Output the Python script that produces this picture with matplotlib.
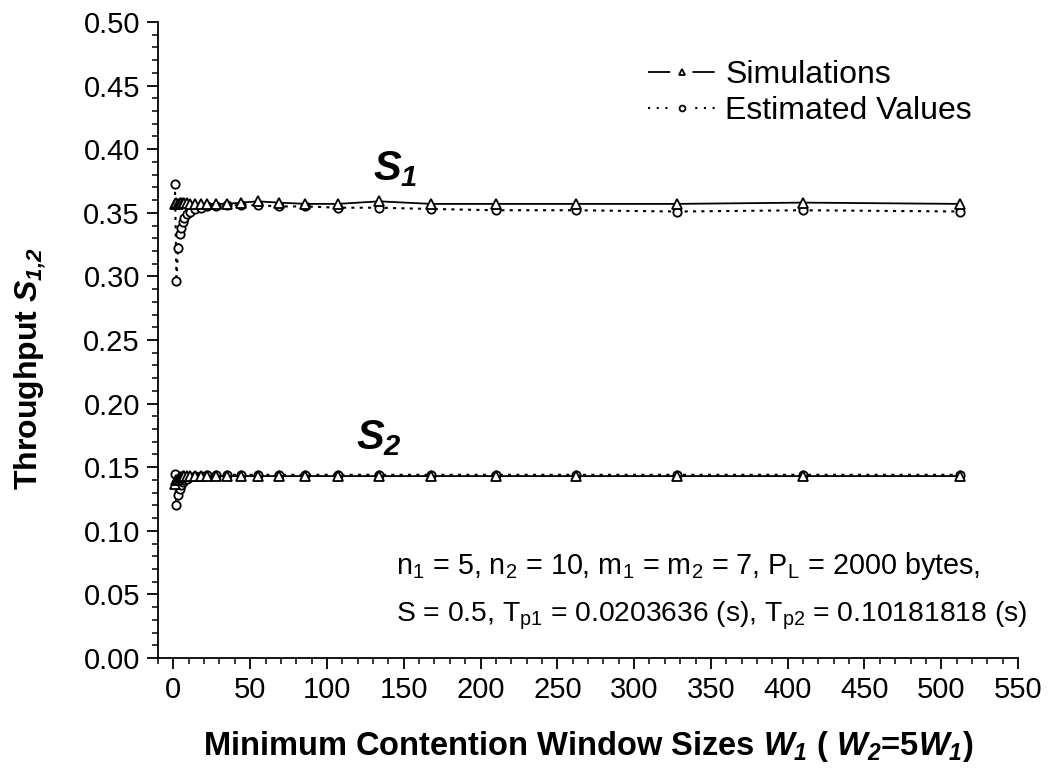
import matplotlib
matplotlib.use("Agg")
import matplotlib.pyplot as plt
from matplotlib.ticker import MultipleLocator, FormatStrFormatter
from matplotlib.lines import Line2D

plt.rcParams["font.family"] = ["Liberation Sans", "DejaVu Sans"]
plt.rcParams["mathtext.fontset"] = "custom"
plt.rcParams["mathtext.rm"] = "Liberation Sans"
plt.rcParams["mathtext.it"] = "Liberation Sans:italic:bold"
plt.rcParams["mathtext.bf"] = "Liberation Sans:italic:bold"

# Minimum contention window sizes W1
w1 = [1, 2, 3, 4, 5, 6, 7, 9, 11, 14, 18, 22, 28, 35, 44, 55, 69, 86,
      107, 134, 168, 210, 262, 328, 410, 512]

# Throughput of class 1
s1_sim = [0.357, 0.358, 0.357, 0.358, 0.358, 0.358, 0.358, 0.358, 0.357,
          0.357, 0.357, 0.357, 0.357, 0.357, 0.358, 0.359, 0.358, 0.357,
          0.357, 0.359, 0.357, 0.357, 0.357, 0.357, 0.358, 0.357]
s1_est = [0.373, 0.296, 0.322, 0.333, 0.338, 0.343, 0.346, 0.349, 0.351,
          0.353, 0.354, 0.355, 0.355, 0.356, 0.356, 0.356, 0.355, 0.355,
          0.354, 0.354, 0.353, 0.352, 0.352, 0.351, 0.352, 0.351]

# Throughput of class 2
s2_sim = [0.137, 0.140, 0.141, 0.142, 0.142, 0.143, 0.143, 0.143, 0.143,
          0.143, 0.143, 0.143, 0.143, 0.143, 0.143, 0.143, 0.143, 0.143,
          0.143, 0.143, 0.143, 0.143, 0.143, 0.143, 0.143, 0.143]
s2_est = [0.145, 0.120, 0.128, 0.133, 0.136, 0.138, 0.140, 0.141, 0.142,
          0.143, 0.143, 0.144, 0.144, 0.144, 0.144, 0.144, 0.144, 0.144,
          0.144, 0.144, 0.144, 0.144, 0.144, 0.144, 0.144, 0.144]

fig = plt.figure(figsize=(10.48, 7.72), dpi=100)
ax = fig.add_axes([0.1508, 0.1477, 0.8206, 0.8238])

SIM_LW, EST_LW = 1.3, 1.5
sim_line = dict(color="black", linestyle="-", linewidth=SIM_LW)
est_line = dict(color="black", linestyle=(0, (1.5, 2.5)), linewidth=EST_LW)
sim_mark = dict(marker="^", markersize=7, markerfacecolor="white",
                markeredgecolor="black", markeredgewidth=1.3)
est_mark = dict(marker="o", markersize=6, markerfacecolor="white",
                markeredgecolor="black", markeredgewidth=1.3)

ax.plot(w1, s1_est, **est_line, **est_mark, zorder=2)
ax.plot(w1, s1_sim, **sim_line, **sim_mark, zorder=3)
ax.plot(w1, s2_est, **est_line, **est_mark, zorder=2)
ax.plot(w1, s2_sim, **sim_line, **sim_mark, zorder=3)

ax.set_xlim(-10, 550)
ax.set_ylim(0.0, 0.5)
ax.xaxis.set_major_locator(MultipleLocator(50))
ax.xaxis.set_minor_locator(MultipleLocator(10))
ax.yaxis.set_major_locator(MultipleLocator(0.05))
ax.yaxis.set_minor_locator(MultipleLocator(0.01))
ax.yaxis.set_major_formatter(FormatStrFormatter("%.2f"))

for side in ("top", "right"):
    ax.spines[side].set_visible(False)
for side in ("left", "bottom"):
    ax.spines[side].set_linewidth(1.3)

ax.tick_params(which="major", direction="out", length=8, width=1.3,
               labelsize=21, pad=5)
ax.tick_params(which="minor", direction="out", length=4, width=1.1)

ax.set_xlabel(r"Minimum Contention Window Sizes $\mathit{W}_{\mathbf{1}}$ "
              r"( $\mathit{W}_{\mathbf{2}}$=5$\mathit{W}_{\mathbf{1}}$)",
              fontsize=23.5, fontweight="bold", labelpad=18)
ax.set_ylabel(r"Throughput $\mathit{S}_{\mathbf{1{,}2}}$", fontsize=23,
              fontweight="bold")
ax.yaxis.set_label_coords(-0.128, 0.455)

ax.text(130, 0.376, r"$\mathit{S}_{\mathbf{1}}$", fontsize=30)
ax.text(119, 0.164, r"$\mathit{S}_{\mathbf{2}}$", fontsize=30)

ax.text(145, 0.066,
        r"n$_{\mathrm{1}}$ = 5, n$_{\mathrm{2}}$ = 10, m$_{\mathrm{1}}$ = "
        r"m$_{\mathrm{2}}$ = 7, P$_{\mathrm{L}}$ = 2000 bytes,",
        fontsize=20.7)
ax.text(145, 0.029,
        r"S = 0.5, T$_{\mathrm{p1}}$ = 0.0203636 (s), "
        r"T$_{\mathrm{p2}}$ = 0.10181818 (s)",
        fontsize=20.3)

# Legend keys: line pieces either side of the marker, leaving a gap round it
seg, gap = 16.0, 16.0
sim_key_dashes = [seg / SIM_LW, gap / SIM_LW, seg / SIM_LW, 40.0]
dots = [1.5, 4.75, 1.5, 4.75, 1.5]
est_key = dots + [20.0] + dots + [40.0]
est_key_dashes = [d / EST_LW for d in est_key]

sim_key = (Line2D([], [], color="black", linewidth=SIM_LW,
                  linestyle=(0, sim_key_dashes)),
           Line2D([], [], linestyle="none", **{**sim_mark, "markersize": 5}))
est_key = (Line2D([], [], color="black", linewidth=EST_LW,
                  linestyle=(0, est_key_dashes)),
           Line2D([], [], linestyle="none", **{**est_mark, "markersize": 4.2}))

ax.legend([sim_key, est_key], ["Simulations", "Estimated Values"],
          loc="upper right", bbox_to_anchor=(0.98, 0.985), frameon=False,
          fontsize=23, numpoints=1, handlelength=2.1, handletextpad=0.32,
          labelspacing=0.18)

fig.savefig("out.png", dpi=100)
